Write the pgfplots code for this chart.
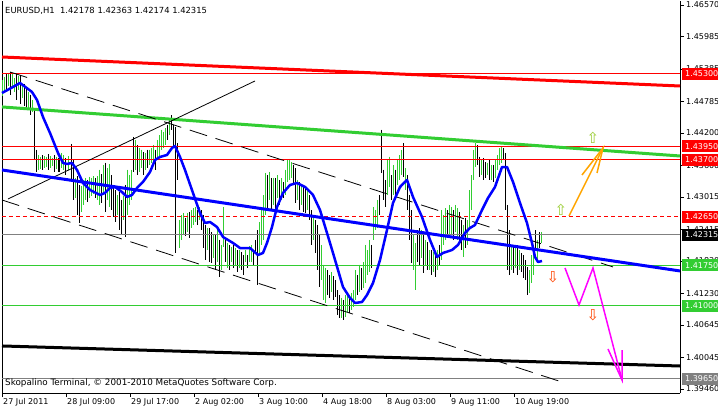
\documentclass[border=0pt]{standalone}
\usepackage{fontspec}
\setmainfont{DejaVu Sans}
\usepackage{pgfplots}
\usepackage{pgfplotstable}
\pgfplotsset{compat=1.18}

\definecolor{mtgreen}{RGB}{50,205,50}
\definecolor{mtred}{RGB}{255,0,0}
\definecolor{mtblue}{RGB}{0,0,255}
\definecolor{mtorange}{RGB}{255,165,0}
\definecolor{mtmag}{RGB}{255,0,255}
\definecolor{mtgrey}{RGB}{128,128,128}
\definecolor{uparrow}{RGB}{154,205,50}
\definecolor{dnarrow}{RGB}{255,69,0}

% H1 bars: x position, high, low
\pgfplotstableread{
x hi lo
3 1.4518 1.4489
5 1.4524 1.4496
9 1.4531 1.4507
13 1.4529 1.4503
15 1.4522 1.4496
19 1.4526 1.4500
23 1.4507 1.4485
29 1.4496 1.4466
33 1.4481 1.4459
39 1.4379 1.4352
41 1.4376 1.4353
45 1.4377 1.4355
47 1.4376 1.4357
51 1.4377 1.4355
53 1.4374 1.4359
57 1.4376 1.4353
61 1.4383 1.4355
63 1.4379 1.4352
68 1.4377 1.4352
75 1.4337 1.4300
81 1.4322 1.4274
83 1.4333 1.4287
85 1.4337 1.4296
89 1.4339 1.4300
91 1.4337 1.4303
93 1.4340 1.4307
97 1.4340 1.4296
99 1.4352 1.4287
103 1.4361 1.4305
107 1.4355 1.4296
109 1.4363 1.4283
117 1.4305 1.4268
123 1.4303 1.4259
127 1.4352 1.4268
129 1.4342 1.4287
131 1.4352 1.4296
135 1.4407 1.4352
139 1.4392 1.4348
141 1.4389 1.4355
145 1.4383 1.4352
149 1.4389 1.4361
151 1.4392 1.4365
153 1.4398 1.4361
157 1.4407 1.4370
159 1.4416 1.4374
161 1.4426 1.4389
163 1.4422 1.4392
165 1.4429 1.4398
169 1.4448 1.4416
179 1.4259 1.4207
181 1.4268 1.4222
183 1.4272 1.4231
187 1.4272 1.4237
191 1.4277 1.4244
193 1.4281 1.4250
195 1.4283 1.4255
199 1.4283 1.4259
207 1.4244 1.4203
213 1.4231 1.4189
217 1.4240 1.4181
221 1.4213 1.4166
223 1.4283 1.4209
227 1.4216 1.4170
231 1.4209 1.4181
235 1.4207 1.4176
239 1.4203 1.4170
245 1.4203 1.4181
249 1.4211 1.4181
251 1.4213 1.4181
259 1.4255 1.4194
261 1.4277 1.4213
263 1.4305 1.4222
265 1.4346 1.4268
269 1.4348 1.4296
273 1.4337 1.4287
277 1.4342 1.4300
281 1.4337 1.4296
285 1.4352 1.4305
287 1.4370 1.4329
289 1.4372 1.4333
291 1.4366 1.4337
297 1.4333 1.4296
301 1.4324 1.4287
307 1.4314 1.4277
313 1.4268 1.4222
321 1.4213 1.4148
323 1.4176 1.4111
325 1.4170 1.4105
331 1.4163 1.4126
341 1.4115 1.4078
345 1.4120 1.4079
347 1.4120 1.4089
351 1.4124 1.4092
353 1.4129 1.4098
355 1.4166 1.4111
359 1.4176 1.4126
363 1.4181 1.4133
365 1.4213 1.4142
367 1.4203 1.4157
369 1.4222 1.4163
373 1.4283 1.4222
375 1.4277 1.4240
377 1.4296 1.4244
387 1.4370 1.4305
389 1.4376 1.4320
393 1.4361 1.4305
397 1.4370 1.4324
399 1.4379 1.4333
401 1.4389 1.4342
405 1.4355 1.4314
413 1.4231 1.4166
415 1.4216 1.4129
421 1.4240 1.4189
425 1.4222 1.4176
429 1.4203 1.4166
433 1.4200 1.4163
437 1.4203 1.4166
441 1.4277 1.4185
443 1.4268 1.4213
445 1.4281 1.4222
449 1.4287 1.4226
451 1.4283 1.4231
455 1.4287 1.4237
457 1.4281 1.4222
463 1.4250 1.4190
467 1.4259 1.4213
469 1.4314 1.4246
471 1.4342 1.4277
473 1.4389 1.4333
475 1.4401 1.4357
481 1.4370 1.4342
487 1.4365 1.4342
491 1.4361 1.4333
495 1.4370 1.4337
497 1.4379 1.4352
499 1.4392 1.4361
501 1.4394 1.4365
511 1.4213 1.4166
515 1.4207 1.4170
519 1.4203 1.4166
529 1.4166 1.4124
531 1.4194 1.4142
533 1.4203 1.4157
537 1.4222 1.4181
541 1.4236 1.4217
}\upbars

\pgfplotstableread{
x hi lo
7 1.4529 1.4500
11 1.4533 1.4491
17 1.4531 1.4481
21 1.4527 1.4474
25 1.4511 1.4470
27 1.4503 1.4463
31 1.4491 1.4453
35 1.4466 1.4370
37 1.4389 1.4348
43 1.4379 1.4352
49 1.4381 1.4352
55 1.4379 1.4348
59 1.4374 1.4348
65 1.4374 1.4342
71 1.4400 1.4329
73 1.4370 1.4296
77 1.4340 1.4268
79 1.4324 1.4253
87 1.4333 1.4292
95 1.4337 1.4300
101 1.4344 1.4290
105 1.4365 1.4274
111 1.4342 1.4277
113 1.4324 1.4265
115 1.4314 1.4255
119 1.4311 1.4240
121 1.4296 1.4231
125 1.4324 1.4227
133 1.4413 1.4348
137 1.4398 1.4342
143 1.4385 1.4342
147 1.4389 1.4355
155 1.4389 1.4352
167 1.4435 1.4407
171 1.4453 1.4426
173 1.4435 1.4392
175 1.4431 1.4198
177 1.4401 1.4333
185 1.4263 1.4229
189 1.4274 1.4226
197 1.4277 1.4250
201 1.4277 1.4240
203 1.4268 1.4207
205 1.4250 1.4185
209 1.4244 1.4181
211 1.4237 1.4179
215 1.4231 1.4166
219 1.4222 1.4153
225 1.4222 1.4181
229 1.4213 1.4166
233 1.4213 1.4170
237 1.4203 1.4163
241 1.4200 1.4166
243 1.4194 1.4157
247 1.4194 1.4170
253 1.4203 1.4176
255 1.4222 1.4200
257 1.4240 1.4139
267 1.4342 1.4277
271 1.4337 1.4277
275 1.4337 1.4274
279 1.4333 1.4287
283 1.4329 1.4300
293 1.4361 1.4324
295 1.4355 1.4290
299 1.4329 1.4277
303 1.4324 1.4274
305 1.4318 1.4272
309 1.4305 1.4259
311 1.4277 1.4213
315 1.4259 1.4198
317 1.4250 1.4166
319 1.4231 1.4135
327 1.4166 1.4120
329 1.4157 1.4115
333 1.4155 1.4111
335 1.4148 1.4116
337 1.4129 1.4083
339 1.4120 1.4078
343 1.4111 1.4074
349 1.4115 1.4087
357 1.4157 1.4120
361 1.4170 1.4129
371 1.4213 1.4170
379 1.4305 1.4268
381 1.4426 1.4346
383 1.4352 1.4296
385 1.4333 1.4283
391 1.4342 1.4296
395 1.4352 1.4302
403 1.4401 1.4339
407 1.4342 1.4277
409 1.4305 1.4222
411 1.4277 1.4179
417 1.4240 1.4181
419 1.4244 1.4176
423 1.4237 1.4161
427 1.4218 1.4166
431 1.4203 1.4157
435 1.4194 1.4153
439 1.4213 1.4176
447 1.4277 1.4231
453 1.4277 1.4222
459 1.4274 1.4216
461 1.4259 1.4203
465 1.4263 1.4207
477 1.4398 1.4361
479 1.4376 1.4339
483 1.4374 1.4333
485 1.4366 1.4337
489 1.4370 1.4333
493 1.4361 1.4329
503 1.4392 1.4370
505 1.4383 1.4277
507 1.4287 1.4166
509 1.4240 1.4157
513 1.4209 1.4161
517 1.4213 1.4157
521 1.4198 1.4163
523 1.4194 1.4152
525 1.4185 1.4148
527 1.4172 1.4120
535 1.4240 1.4203
539 1.4237 1.4207
}\downbars

\begin{document}
\begin{tikzpicture}
\path[use as bounding box, fill=white] (0pt,0pt) rectangle (718pt,408pt);
\begin{axis}[
  at={(2pt,15pt)}, anchor=south west,
  width=678pt, height=392pt, scale only axis,
  xmin=2, xmax=680, ymin=1.39385, ymax=1.46644,
  axis x line*=bottom, axis y line*=right,
  axis line style={black, line width=0.8pt},
  tick align=outside, major tick length=4pt,
  tick style={black, line width=0.8pt},
  xtick={2,66,130,194,258,322,386,450,514},
  xticklabels={27 Jul 2011,28 Jul 09:00,29 Jul 17:00,2 Aug 02:00,3 Aug 10:00,4 Aug 18:00,8 Aug 03:00,9 Aug 11:00,10 Aug 19:00},
  ytick={1.39460,1.40045,1.40645,1.41230,1.41830,1.42415,1.43015,1.43600,1.44200,1.44785,1.45385,1.45985,1.46570},
  yticklabels={1.39460,1.40045,1.40645,1.41230,1.41830,1.42415,1.43015,1.43600,1.44200,1.44785,1.45385,1.45985,1.46570},
  tick label style={font=\fontsize{8}{9}\selectfont, black},
  xticklabel style={anchor=north west, inner sep=0pt, xshift=1pt, yshift=-1pt},
  yticklabel style={anchor=west, inner sep=0pt, xshift=2pt},
  clip=false,
]
\draw[black, line width=0.8pt] (rel axis cs:0,0) -- (rel axis cs:0,1);

% price bars (high-low ranges)
\addplot[draw=none, mark=none,
  error bars/.cd, y dir=minus, y explicit, error mark=none,
  error bar style={draw=mtgreen, line width=1pt}]
  table[x=x, y=hi, y error minus expr=\thisrow{hi}-\thisrow{lo}] {\upbars};
\addplot[draw=none, mark=none,
  error bars/.cd, y dir=minus, y explicit, error mark=none,
  error bar style={draw=black, line width=1pt}]
  table[x=x, y=hi, y error minus expr=\thisrow{hi}-\thisrow{lo}] {\downbars};

% horizontal levels
\addplot[mtred, line width=1pt] coordinates {(2,1.4530) (680,1.4530)};
\addplot[mtred, line width=1pt] coordinates {(2,1.4395) (680,1.4395)};
\addplot[mtred, line width=1pt] coordinates {(2,1.4370) (680,1.4370)};
\addplot[mtred, line width=1pt, dash pattern=on 4pt off 3pt] coordinates {(2,1.4265) (680,1.4265)};
\addplot[mtgrey, line width=1pt] coordinates {(2,1.42315) (680,1.42315)};
\addplot[mtgreen, line width=1pt] coordinates {(2,1.4175) (680,1.4175)};
\addplot[mtgreen, line width=1pt] coordinates {(2,1.4100) (680,1.4100)};
\addplot[mtgrey, line width=1pt] coordinates {(2,1.3965) (680,1.3965)};

% trend lines
\addplot[mtred, line width=3pt] coordinates {(2,1.45607) (680,1.45070)};
\addplot[mtgreen, line width=3pt] coordinates {(2,1.44682) (680,1.43774)};
\addplot[black, line width=3pt] coordinates {(2,1.40256) (680,1.39885)};
\addplot[black, line width=0.8pt, dash pattern=on 18pt off 9pt] coordinates {(10,1.45330) (613,1.41719)};
\addplot[black, line width=0.8pt, dash pattern=on 18pt off 9pt] coordinates {(2,1.42959) (565,1.39570)};
\addplot[black, line width=0.8pt] coordinates {(8,1.42978) (255,1.45163)};
\addplot[mtblue, line width=3pt] coordinates {(2,1.43515) (680,1.41645)};

% moving average
\addplot[mtblue, line width=2.5pt, line join=round] coordinates {
(2,1.44941) (13,1.45052) (20,1.45126) (32,1.44959) (37,1.44811) (43,1.44496)
(50,1.44200) (58,1.43830) (63,1.43645) (67,1.43626) (72,1.43645) (77,1.43515)
(83,1.43274) (90,1.43145) (100,1.43052) (105,1.43089) (110,1.43182) (115,1.43200)
(122,1.43107) (127,1.43015) (132,1.43052) (137,1.43182) (143,1.43293) (150,1.43478)
(155,1.43700) (160,1.43756) (167,1.43793) (172,1.43922) (175,1.43959) (180,1.43756)
(185,1.43515) (193,1.43089) (200,1.42719) (205,1.42533) (210,1.42552) (217,1.42459)
(223,1.42274) (233,1.42163) (240,1.42070) (250,1.42070) (258,1.41941) (263,1.41978)
(267,1.42163) (272,1.42459) (277,1.42830) (283,1.43089) (290,1.43237) (297,1.43274)
(305,1.43200) (313,1.43052) (320,1.42774) (327,1.42348) (333,1.41978) (338,1.41663)
(343,1.41348) (350,1.41145) (355,1.41052) (362,1.41070) (367,1.41200) (373,1.41422)
(380,1.41848) (387,1.42404) (393,1.42904) (400,1.43200) (407,1.43330) (413,1.43015)
(422,1.42645) (430,1.42219) (437,1.41904) (443,1.41978) (452,1.42033) (458,1.42126)
(465,1.42348) (470,1.42441) (475,1.42496) (482,1.42774) (488,1.42996) (495,1.43200)
(502,1.43570) (507,1.43570) (513,1.43293) (520,1.42904) (527,1.42533) (532,1.42163)
(535,1.41904) (538,1.41811) (542,1.41830)};

% projected paths
\addplot[mtorange, line width=1.5pt] coordinates {(569,1.42663) (603,1.43922)};
\addplot[mtorange, line width=1.5pt] coordinates {(582,1.43422) (603,1.43922) (597,1.43459)};
\addplot[mtmag, line width=1.5pt] coordinates {(565,1.41700) (579,1.41015) (593,1.41700) (622,1.39626)};
\addplot[mtmag, line width=1.5pt] coordinates {(608,1.40200) (622,1.39626) (622,1.40181)};

\node[text=uparrow, font=\fontsize{15}{15}\selectfont, inner sep=0pt] at (axis cs:593,1.44107) {⇧};
\node[text=uparrow, font=\fontsize{15}{15}\selectfont, inner sep=0pt] at (axis cs:561,1.42774) {⇧};
\node[text=dnarrow, font=\fontsize{15}{15}\selectfont, inner sep=0pt] at (axis cs:553,1.41533) {⇩};
\node[text=dnarrow, font=\fontsize{15}{15}\selectfont, inner sep=0pt] at (axis cs:593,1.40830) {⇩};

\coordinate (b1) at (axis cs:680,1.4530);
\coordinate (b2) at (axis cs:680,1.4395);
\coordinate (b3) at (axis cs:680,1.4370);
\coordinate (b4) at (axis cs:680,1.4265);
\coordinate (b5) at (axis cs:680,1.42315);
\coordinate (b6) at (axis cs:680,1.4175);
\coordinate (b7) at (axis cs:680,1.4100);
\coordinate (b8) at (axis cs:680,1.3965);
\end{axis}

\tikzset{pricebox/.style={anchor=west, xshift=2pt, text=white, inner xsep=3pt, inner ysep=0pt,
  minimum height=12pt, font=\fontsize{8}{9}\selectfont}}
\node[pricebox, fill=mtred] at (b1) {1.45300};
\node[pricebox, fill=mtred] at (b2) {1.43950};
\node[pricebox, fill=mtred] at (b3) {1.43700};
\node[pricebox, fill=mtred] at (b4) {1.42650};
\node[pricebox, fill=black] at (b5) {1.42315};
\node[pricebox, fill=mtgreen] at (b6) {1.41750};
\node[pricebox, fill=mtgreen] at (b7) {1.41000};
\node[pricebox, fill=mtgrey] at (b8) {1.39650};

\node[anchor=west, inner sep=0pt, font=\fontsize{8.4}{10}\selectfont] at (5pt,397pt)
  {EURUSD,H1\ \ 1.42178 1.42363 1.42174 1.42315};
\node[anchor=west, inner sep=0pt, font=\fontsize{8.8}{10}\selectfont] at (5pt,25pt)
  {Skopalino Terminal, © 2001-2010 MetaQuotes Software Corp.};
\end{tikzpicture}
\end{document}
